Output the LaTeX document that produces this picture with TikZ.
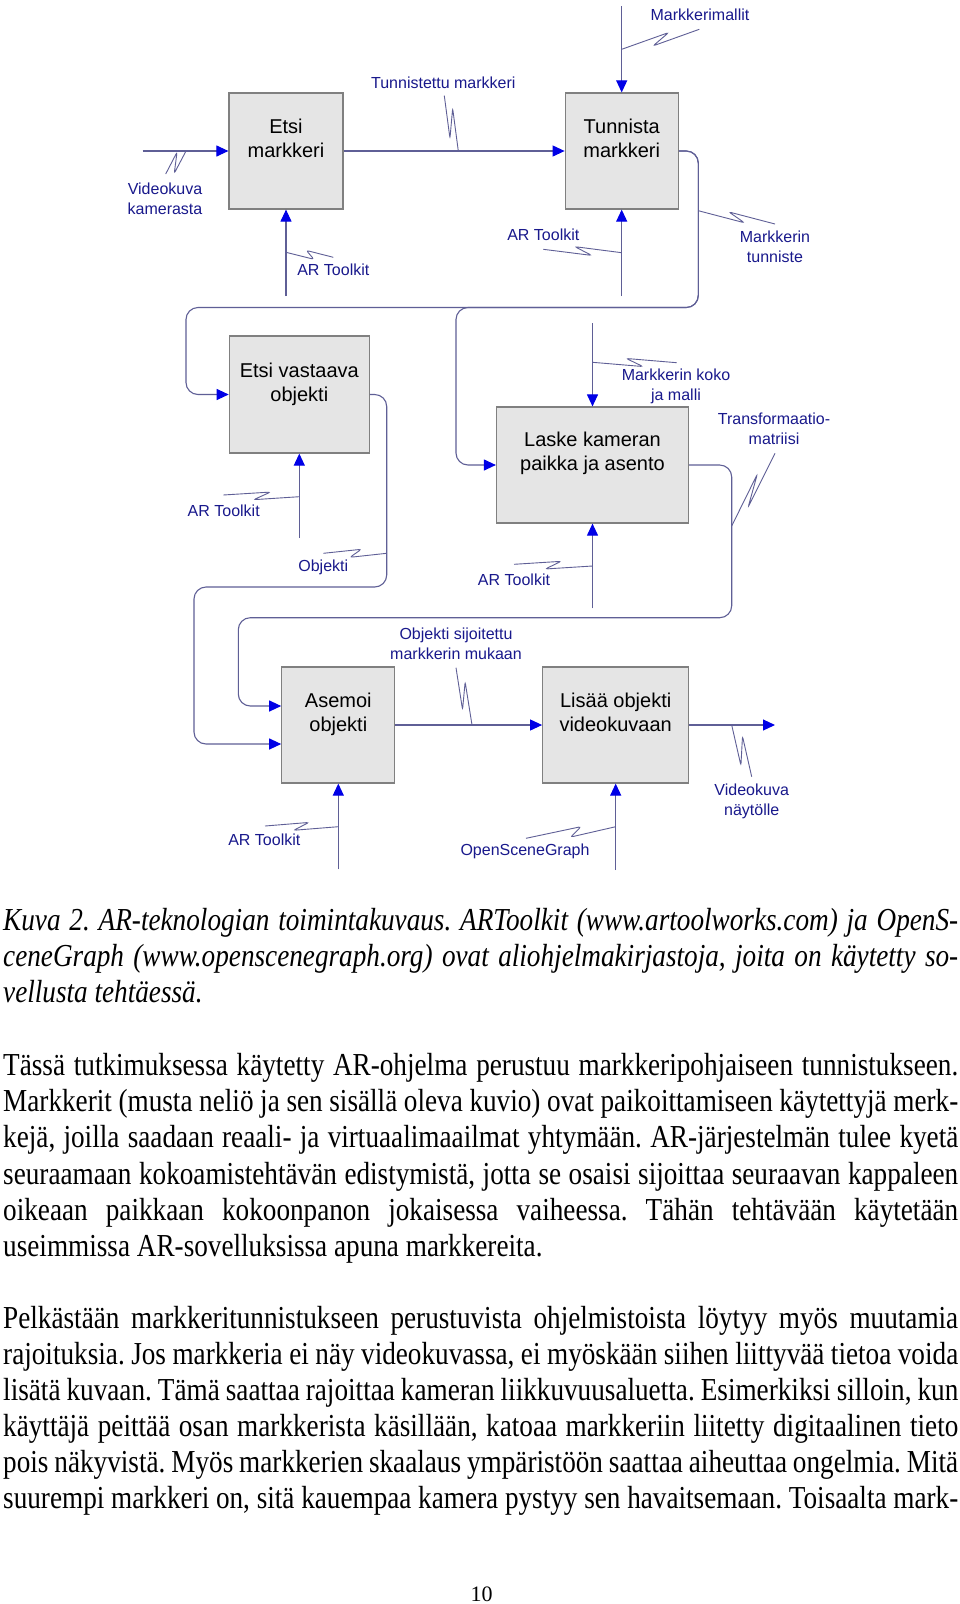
\documentclass[tikz,border=0pt]{standalone}
\usepackage{fontspec}
\setmainfont{Liberation Serif}
\newfontfamily\diagfont{Liberation Sans}
\newfontfamily\pagebodyfont[FakeStretch=0.85]{Liberation Serif}
\usetikzlibrary{arrows.meta,calc}
\definecolor{linec}{RGB}{95,95,150}
\definecolor{arrc}{RGB}{0,0,230}
\definecolor{labc}{RGB}{25,25,140}
\definecolor{boxfill}{RGB}{229,229,229}
\definecolor{boxline}{RGB}{128,128,128}
\tikzset{
  conn/.style={draw=linec, line width=1.1pt},
  arr/.style={conn, -{Triangle[length=12pt,width=11pt,color=arrc]}},
  looparr/.style={arr, rounded corners=12pt},
  procbox/.style={draw=boxline, fill=boxfill, line width=1.2pt, inner sep=0pt},
  boxtxt/.style={font=\diagfont\fontsize{20}{24}\selectfont, align=center, text=black, inner sep=0pt},
  lab/.style={font=\diagfont\fontsize{16}{20}\selectfont, align=center, text=labc, inner sep=0pt},
  zigline/.style={conn, line width=0.9pt, rounded corners=2.5pt},
  bodyline/.style={anchor=base west, inner sep=0pt, font=\pagebodyfont\fontsize{32}{36}\selectfont},
  capline/.style={bodyline, font=\pagebodyfont\itshape\fontsize{32}{36}\selectfont},
}
% \zig{A}{B}{t1}{t2}{offset}
\newcommand{\zig}[5]{%
  \coordinate (zgP) at ($(#1)!#3!(#2)$);
  \coordinate (zgQ) at ($(#1)!#4!(#2)$);
  \draw[zigline] (#1) -- ($(zgP)!#5!-90:(#2)$) -- ($(zgQ)!#5!90:(#2)$) -- (#2);}
\newcommand{\jline}[1]{\makebox[955pt][s]{#1}}
\frenchspacing
\begin{document}
\begin{tikzpicture}[x=1pt,y=-1pt]
\fill[white] (0,0) rectangle (960,1604);
\useasboundingbox (0,0) rectangle (960,1604);

% boxes
\node[procbox, minimum width=114pt, minimum height=116pt] (b1) at (286,151) {};
\node[procbox, minimum width=113pt, minimum height=116pt] (b2) at (621.7,151) {};
\node[procbox, minimum width=140pt, minimum height=117pt] (b3) at (299.3,394.5) {};
\node[procbox, minimum width=192pt, minimum height=116pt] (b4) at (592.5,465) {};
\node[procbox, minimum width=113pt, minimum height=116pt] (b5) at (338.3,725) {};
\node[procbox, minimum width=146pt, minimum height=116pt] (b6) at (615.7,725) {};

\node[boxtxt] (t1) at (286,138) {Etsi\\markkeri};
\node[boxtxt] (t2) at (621.7,138) {Tunnista\\markkeri};
\node[boxtxt] (t3) at (299.3,384.3) {Etsi vastaava\\objekti};
\node[boxtxt] (t4) at (592.5,453.5) {Laske kameran\\paikka ja asento};
\node[boxtxt] (t5) at (338.3,714) {Asemoi\\objekti};
\node[boxtxt] (t6) at (615.7,712.7) {Lisää objekti\\videokuvaan};

% free ends
\coordinate (in1) at (142.7,151);
\coordinate (c1) at (286,296);
\coordinate (m2) at (621.7,6);
\coordinate (c2) at (621.7,296);
\coordinate (c3) at (299.3,538);
\coordinate (m4) at (592.5,323);
\coordinate (c4) at (592.5,608.3);
\coordinate (c5) at (338.3,869.3);
\coordinate (c6) at (615.7,870);
\coordinate (out6) at (775,725);
\coordinate (a5up) at ($(b5.west)+(0,-19)$);
\coordinate (a5dn) at ($(b5.west)+(0,19)$);
\coordinate (r2) at (698.3,307.5);
\coordinate (r3) at (386.7,587);
\coordinate (r4) at (731.7,617.7);

% straight connectors
\draw[arr] (in1) -- (b1.west);
\draw[arr] (b1.east) -- (b2.west);
\draw[arr] (c1) -- (b1.south);
\draw[arr] (m2) -- (b2.north);
\draw[arr] (c2) -- (b2.south);
\draw[arr] (c3) -- (b3.south);
\draw[arr] (m4) -- (b4.north);
\draw[arr] (c4) -- (b4.south);
\draw[arr] (b5.east) -- (b6.west);
\draw[arr] (c5) -- (b5.south);
\draw[arr] (c6) -- (b6.south);
\draw[arr] (b6.east) -- (out6);

% loops
\draw[looparr] (b2.east) -| (r2) -- (186,307.5) |- (b3.west);
\draw[looparr] (b2.east) -| (r2) -- (456,307.5) |- (b4.west);
\draw[looparr] (b3.east) -| (r3) -- (194,587) |- (a5dn);
\draw[looparr] (b4.east) -| (r4) -- (238.3,617.7) |- (a5up);

% labels
\node[lab] (l1) at (165,198.3) {Videokuva\\kamerasta};
\node[lab] (l2) at (443.3,82.7) {Tunnistettu markkeri};
\node[lab] (l3) at (333.3,270) {AR Toolkit};
\node[lab] (l4) at (700,15) {Markkerimallit};
\node[lab] (l5) at (543.3,235) {AR Toolkit};
\node[lab] (l6) at (775,247) {Markkerin\\tunniste};
\node[lab] (l7) at (223.7,510.7) {AR Toolkit};
\node[lab] (l8) at (323.3,567.5) {Objekti};
\node[lab] (l9) at (676,386) {Markkerin koko\\ja malli};
\node[lab] (l10) at (514,579.3) {AR Toolkit};
\node[lab] (l11) at (774,428.8) {Transformaatio-\\matriisi};
\node[lab] (l12) at (456,643.3) {Objekti sijoitettu\\markkerin mukaan};
\node[lab] (l13) at (264.3,839.3) {AR Toolkit};
\node[lab] (l14) at (525,851.7) {OpenSceneGraph};
\node[lab] (l15) at (751.7,801.2) {Videokuva\\näytölle};

% squiggle ends
\coordinate (s1a) at (186,151);     \coordinate (s1b) at (165.7,174);
\coordinate (s2a) at (458.3,151);   \coordinate (s2b) at (444.3,95.7);
\coordinate (s3a) at (286,252.3);   \coordinate (s3b) at (333.3,257.3);
\coordinate (s4a) at (621.7,49.3);  \coordinate (s4b) at (699.3,29.3);
\coordinate (s5a) at (621.7,252.7); \coordinate (s5b) at (543.3,249.3);
\coordinate (s6a) at (698.3,210.7); \coordinate (s6b) at (775,224);
\coordinate (s7a) at (299.3,496.7); \coordinate (s7b) at (223.3,495);
\coordinate (s8a) at (386.7,553.3); \coordinate (s8b) at (323.3,553.3);
\coordinate (s9a) at (592.5,362.3); \coordinate (s9b) at (676.7,362.7);
\coordinate (s10a) at (592.5,566);  \coordinate (s10b) at (514,564.3);
\coordinate (s11a) at (731.7,526);  \coordinate (s11b) at (775,453.3);
\coordinate (s12a) at (472,725);    \coordinate (s12b) at (456,667.7);
\coordinate (s13a) at (338.3,826.7);\coordinate (s13b) at (265,826);
\coordinate (s14a) at (615.7,826.7);\coordinate (s14b) at (526,838.3);
\coordinate (s15a) at (731.7,725);  \coordinate (s15b) at (751.7,776.7);
\zig{s1a}{s1b}{0.80}{0.22}{-6pt}
\zig{s2a}{s2b}{0.75}{0.25}{5pt}
\zig{s3a}{s3b}{0.60}{0.42}{4pt}
\zig{s4a}{s4b}{0.62}{0.39}{-4.5pt}
\zig{s5a}{s5b}{0.60}{0.38}{4pt}
\zig{s6a}{s6b}{0.61}{0.39}{4pt}
\zig{s7a}{s7b}{0.60}{0.38}{-4pt}
\zig{s8a}{s8b}{0.58}{0.40}{-4pt}
\zig{s9a}{s9b}{0.60}{0.40}{4pt}
\zig{s10a}{s10b}{0.60}{0.40}{-4pt}
\zig{s11a}{s11b}{0.68}{0.29}{-4.5pt}
\zig{s12a}{s12b}{0.73}{0.29}{5pt}
\zig{s13a}{s13b}{0.61}{0.40}{-4pt}
\zig{s14a}{s14b}{0.51}{0.38}{-4.5pt}
\zig{s15a}{s15b}{0.74}{0.26}{6pt}

% caption
\node[capline] (cap1) at (3,930) {\jline{Kuva 2. AR-teknologian toimintakuvaus. ARToolkit (www.artoolworks.com) ja OpenS-}};
\node[capline] (cap2) at (3,966) {\jline{ceneGraph (www.openscenegraph.org) ovat aliohjelmakirjastoja, joita on käytetty so-}};
\node[capline] (cap3) at (3,1002) {vellusta tehtäessä.};

% paragraph 1
\node[bodyline] (p1) at (3,1075) {\jline{Tässä tutkimuksessa käytetty AR-ohjelma perustuu markkeripohjaiseen tunnistukseen.}};
\node[bodyline] (p2) at (3,1111) {\jline{Markkerit (musta neliö ja sen sisällä oleva kuvio) ovat paikoittamiseen käytettyjä merk-}};
\node[bodyline] (p3) at (3,1147) {\jline{kejä, joilla saadaan reaali- ja virtuaalimaailmat yhtymään. AR-järjestelmän tulee kyetä}};
\node[bodyline] (p4) at (3,1184) {\jline{seuraamaan kokoamistehtävän edistymistä, jotta se osaisi sijoittaa seuraavan kappaleen}};
\node[bodyline] (p5) at (3,1220) {\jline{oikeaan paikkaan kokoonpanon jokaisessa vaiheessa. Tähän tehtävään käytetään}};
\node[bodyline] (p6) at (3,1256) {useimmissa AR-sovelluksissa apuna markkereita.};

% paragraph 2
\node[bodyline] (q1) at (3,1328) {\jline{Pelkästään markkeritunnistukseen perustuvista ohjelmistoista löytyy myös muutamia}};
\node[bodyline] (q2) at (3,1364) {\jline{rajoituksia. Jos markkeria ei näy videokuvassa, ei myöskään siihen liittyvää tietoa voida}};
\node[bodyline] (q3) at (3,1400) {\jline{lisätä kuvaan. Tämä saattaa rajoittaa kameran liikkuvuusaluetta. Esimerkiksi silloin, kun}};
\node[bodyline] (q4) at (3,1436) {\jline{käyttäjä peittää osan markkerista käsillään, katoaa markkeriin liitetty digitaalinen tieto}};
\node[bodyline] (q5) at (3,1472) {\jline{pois näkyvistä. Myös markkerien skaalaus ympäristöön saattaa aiheuttaa ongelmia. Mitä}};
\node[bodyline] (q6) at (3,1508) {\jline{suurempi markkeri on, sitä kauempaa kamera pystyy sen havaitsemaan. Toisaalta mark-}};

% page number
\node[anchor=base, inner sep=0pt, font=\fontsize{22}{24}\selectfont] (pg) at (481.7,1601.7) {10};
\end{tikzpicture}
\end{document}
